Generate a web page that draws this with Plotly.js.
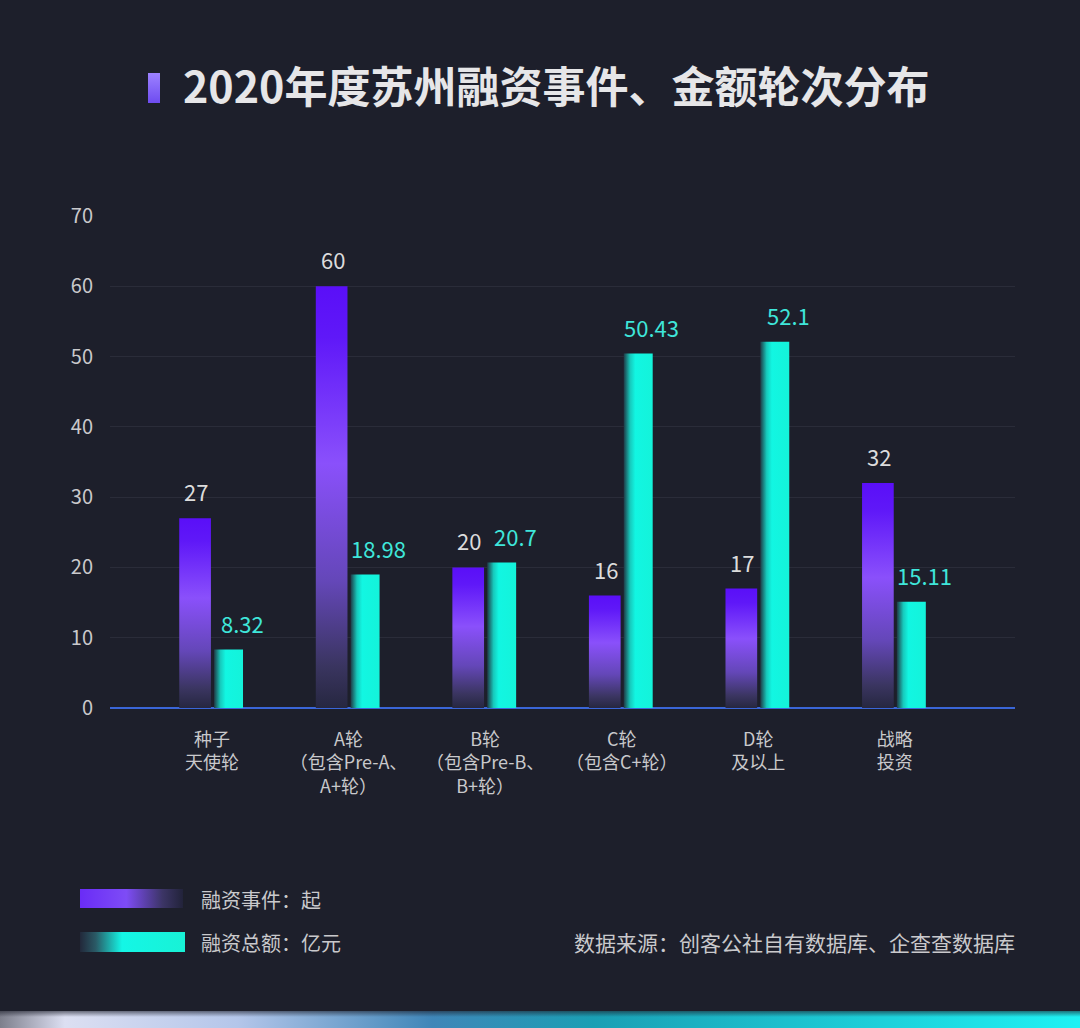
<!DOCTYPE html>
<html>
<head>
<meta charset="utf-8">
<script src="https://cdn.plot.ly/plotly-3.0.1.min.js"></script>
<style>
html,body{margin:0;padding:0;background:#1d1f2b;}
#chart{width:1080px;height:1028px;}
</style>
</head>
<body>
<div id="chart"></div>
<script>
// ---- data ----
const categories = [
  "种子<br>天使轮",
  "A轮<br>（包含Pre-A、<br>A+轮）",
  "B轮<br>（包含Pre-B、<br>B+轮）",
  "C轮<br>（包含C+轮）",
  "D轮<br>及以上",
  "战略<br>投资"
];
const eventCounts = [27, 60, 20, 16, 17, 32];
const amounts = [8.32, 18.98, 20.7, 50.43, 52.1, 15.11];
const eventLabels = ["27", "60", "20", "16", "17", "32"];
const amountLabels = ["8.32", "18.98", "20.7", "50.43", "52.1", "15.11"];
const yTicks = [0, 10, 20, 30, 40, 50, 60, 70];
const seriesNames = ["融资事件：起", "融资总额：亿元"];
const titleText = "2020年度苏州融资事件、金额轮次分布";
const sourceText = "数据来源：创客公社自有数据库、企查查数据库";

// ---- layout helpers (pixel -> paper) ----
const L = 110, R = 1015, T = 216, B = 708;
const px = x => (x - L) / (R - L);
const py = y => (B - y) / (B - T);
const FONT = '"Noto Sans CJK SC", "Noto Sans", sans-serif';

function svgURI(svg){ return 'data:image/svg+xml;charset=utf-8,' + encodeURIComponent(svg); }
const purpleSwatch = svgURI('<svg xmlns="http://www.w3.org/2000/svg" width="100" height="20" preserveAspectRatio="none"><defs><linearGradient id="g" x1="0" y1="0" x2="1" y2="0"><stop offset="0" stop-color="#6a2cf6"/><stop offset="0.45" stop-color="#7e4cf6"/><stop offset="0.8" stop-color="#3c3566"/><stop offset="1" stop-color="#22233a"/></linearGradient></defs><rect width="100" height="20" fill="url(#g)"/></svg>');
const tealSwatch = svgURI('<svg xmlns="http://www.w3.org/2000/svg" width="100" height="20" preserveAspectRatio="none"><defs><linearGradient id="g" x1="0" y1="0" x2="1" y2="0"><stop offset="0" stop-color="#22283a"/><stop offset="0.15" stop-color="#2a5a66"/><stop offset="0.4" stop-color="#14f6e6"/><stop offset="1" stop-color="#18f2d6"/></linearGradient></defs><rect width="100" height="20" fill="url(#g)"/></svg>');
const titleMark = svgURI('<svg xmlns="http://www.w3.org/2000/svg" width="12" height="30" preserveAspectRatio="none"><defs><linearGradient id="g" x1="0" y1="0" x2="0" y2="1"><stop offset="0" stop-color="#9d82ff"/><stop offset="1" stop-color="#6e4cf0"/></linearGradient></defs><rect width="12" height="30" fill="url(#g)"/></svg>');
const bottomStrip = svgURI('<svg xmlns="http://www.w3.org/2000/svg" width="1080" height="17" preserveAspectRatio="none"><defs><linearGradient id="g" x1="0" y1="0" x2="1" y2="0"><stop offset="0" stop-color="#7d7f8c"/><stop offset="0.06" stop-color="#dcdff2"/><stop offset="0.22" stop-color="#b4c6ea"/><stop offset="0.4" stop-color="#3f86b8"/><stop offset="0.55" stop-color="#1a9fb4"/><stop offset="1" stop-color="#1ff2f4"/></linearGradient><linearGradient id="v" x1="0" y1="0" x2="0" y2="1"><stop offset="0" stop-color="#1d1f2b" stop-opacity="0.6"/><stop offset="0.35" stop-color="#1d1f2b" stop-opacity="0"/></linearGradient></defs><rect width="1080" height="17" fill="url(#g)"/><rect width="1080" height="17" fill="url(#v)"/></svg>');

const traces = [
  {
    type: 'bar', name: seriesNames[0], x: categories, y: eventCounts,
    width: 0.232, offset: -0.24,
    marker: {color: '#7a45ff', line: {width: 0}},
    hoverinfo: 'skip', showlegend: false
  },
  {
    type: 'bar', name: seriesNames[1], x: categories, y: amounts,
    width: 0.212, offset: 0.015,
    marker: {color: '#14f5dc', line: {width: 0}},
    hoverinfo: 'skip', showlegend: false
  }
];

const annotations = [];
categories.forEach((c, i) => {
  annotations.push({
    x: c, y: eventCounts[i], xref: 'x', yref: 'y', text: eventLabels[i],
    showarrow: false, xanchor: 'center', yanchor: 'bottom', xshift: -16, yshift: 9,
    font: {family: FONT, size: 22, color: '#dcdcdc'}
  });
  annotations.push({
    x: c, y: amounts[i], xref: 'x', yref: 'y', text: amountLabels[i],
    showarrow: false, xanchor: 'center', yanchor: 'bottom', xshift: 30, yshift: 9,
    font: {family: FONT, size: 22, color: '#3fe6da'}
  });
});
annotations.push(
  {xref: 'paper', yref: 'paper', x: px(199), y: py(899), xanchor: 'left', yanchor: 'middle',
   text: seriesNames[0], showarrow: false, font: {family: FONT, size: 20, color: '#c9c9cc'}},
  {xref: 'paper', yref: 'paper', x: px(199), y: py(942), xanchor: 'left', yanchor: 'middle',
   text: seriesNames[1], showarrow: false, font: {family: FONT, size: 20, color: '#c9c9cc'}},
  {xref: 'paper', yref: 'paper', x: px(1017), y: py(942), xanchor: 'right', yanchor: 'middle',
   text: sourceText, showarrow: false, font: {family: FONT, size: 21, color: '#c9c9cc'}}
);

const images = [
  {source: purpleSwatch, xref: 'paper', yref: 'paper', x: px(80), y: py(889),
   sizex: 103 / (R - L), sizey: 19 / (B - T), sizing: 'stretch', xanchor: 'left', yanchor: 'top', layer: 'above'},
  {source: tealSwatch, xref: 'paper', yref: 'paper', x: px(80), y: py(932),
   sizex: 105 / (R - L), sizey: 20 / (B - T), sizing: 'stretch', xanchor: 'left', yanchor: 'top', layer: 'above'},
  {source: titleMark, xref: 'paper', yref: 'paper', x: px(148), y: py(73),
   sizex: 12 / (R - L), sizey: 30 / (B - T), sizing: 'stretch', xanchor: 'left', yanchor: 'top', layer: 'above'},
  {source: bottomStrip, xref: 'paper', yref: 'paper', x: px(0), y: py(1011),
   sizex: 1080 / (R - L), sizey: 17 / (B - T), sizing: 'stretch', xanchor: 'left', yanchor: 'top', layer: 'above'}
];

const layout = {
  width: 1080, height: 1028,
  paper_bgcolor: '#1d1f2b', plot_bgcolor: '#1d1f2b',
  margin: {l: L, r: 1080 - R, t: T, b: 1028 - B, pad: 0},
  barmode: 'overlay',
  title: {
    text: '<b>' + titleText + '</b>', xref: 'container', yref: 'container',
    x: 183 / 1080, xanchor: 'left', y: 1 - 88 / 1028, yanchor: 'middle',
    font: {family: FONT, size: 43, color: '#e6e6e8'}
  },
  xaxis: {
    type: 'category', range: [-0.747, 5.88], fixedrange: true,
    showgrid: false, zeroline: false, showline: false, ticks: '',
    ticklabelstandoff: 19,
    tickfont: {family: FONT, size: 18, color: '#c9c9cc'}
  },
  yaxis: {
    range: [0, 70], tickvals: yTicks, ticktext: yTicks.map(String), fixedrange: true,
    showgrid: true, gridcolor: '#2a2c39', gridwidth: 1,
    zeroline: true, zerolinecolor: '#3a66d8', zerolinewidth: 2,
    showline: false, ticks: '', ticklabelstandoff: 16,
    tickfont: {family: FONT, size: 20, color: '#c9c9cc'}
  },
  annotations: annotations,
  images: images,
  showlegend: false
};

Plotly.newPlot('chart', traces, layout, {displayModeBar: false, staticPlot: true}).then(gd => {
  const NS = 'http://www.w3.org/2000/svg';
  const svg = gd.querySelector('.main-svg');
  let defs = svg.querySelector('defs');
  if (!defs) { defs = document.createElementNS(NS, 'defs'); svg.insertBefore(defs, svg.firstChild); }
  function grad(id, vertical, stops) {
    const g = document.createElementNS(NS, 'linearGradient');
    g.setAttribute('id', id);
    g.setAttribute('x1', '0'); g.setAttribute('y1', '0');
    g.setAttribute('x2', vertical ? '0' : '1'); g.setAttribute('y2', vertical ? '1' : '0');
    stops.forEach(s => {
      const st = document.createElementNS(NS, 'stop');
      st.setAttribute('offset', s[0]); st.setAttribute('stop-color', s[1]);
      g.appendChild(st);
    });
    defs.appendChild(g);
  }
  grad('gPurple', true, [[0, '#5a0ff8'], [0.12, '#5f18f8'], [0.42, '#8a50fb'], [0.7, '#6447b8'], [0.9, '#3a3560'], [1, '#262740']]);
  grad('gTeal', false, [[0, '#1f3a46'], [0.22, '#17c9bc'], [0.4, '#12f6e2'], [1, '#14f3da']]);
  const bars = gd.querySelectorAll('.barlayer .trace');
  if (bars[0]) bars[0].querySelectorAll('path').forEach(p => { p.style.fill = 'url(#gPurple)'; });
  if (bars[1]) bars[1].querySelectorAll('path').forEach(p => { p.style.fill = 'url(#gTeal)'; });
});
</script>
</body>
</html>
